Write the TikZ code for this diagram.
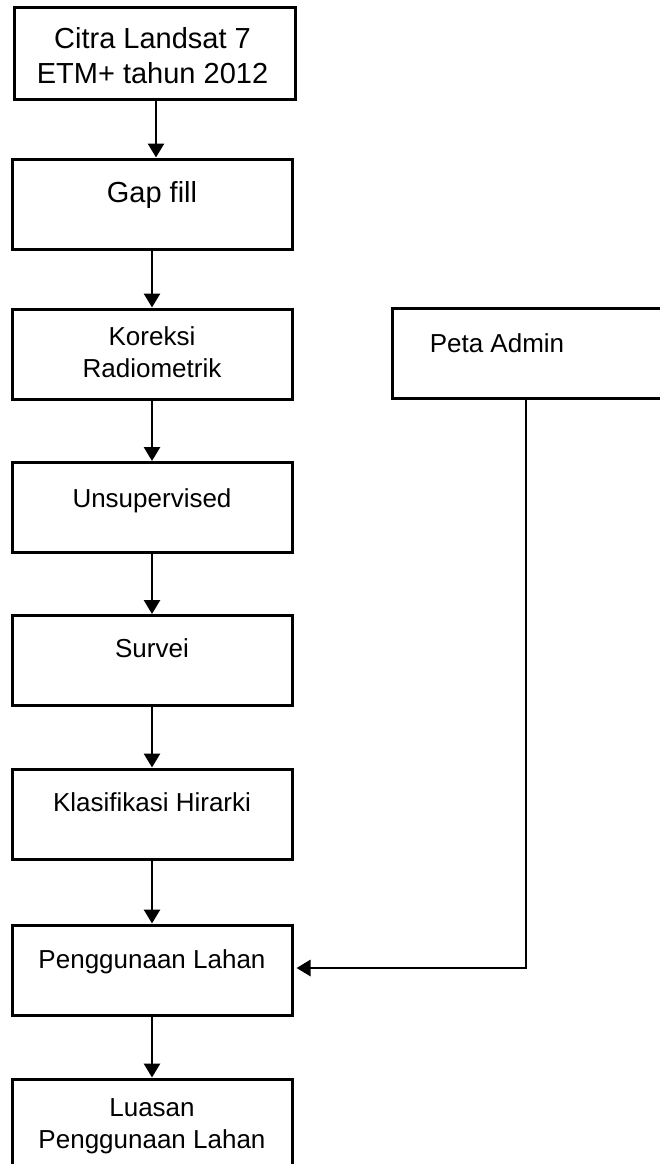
\documentclass[tikz,border=0pt]{standalone}
\usepackage{fontspec}
\setmainfont{Liberation Sans}
\usetikzlibrary{arrows.meta,calc}
\begin{document}
\begin{tikzpicture}[x=1pt,y=-1pt,
 box/.style={draw,line width=3pt,minimum width=280pt,minimum height=90pt,inner sep=0pt},
 big/.style={font=\fontsize{29}{35}\selectfont,align=center,inner sep=0pt,anchor=base},
 txt/.style={font=\fontsize{26}{32}\selectfont,align=center,inner sep=0pt,anchor=base},
 arr/.style={line width=2.8pt,-{Triangle[width=16pt,length=14pt]}}]
\useasboundingbox (0,0) rectangle (659,1164);
% boxes
\node[box,minimum width=281pt,minimum height=91pt] (b1) at (154.5,53.5) {};
\node[box] (b2) at (152,204) {};
\node[box] (b3) at (152,354) {};
\node[box] (b4) at (152,507.5) {};
\node[box] (b5) at (152,660.5) {};
\node[box] (b6) at (152,814) {};
\node[box] (b7) at (152,970) {};
\node[box] (b8) at (152,1124) {};
\node[box] (pa) at (532,353.5) {};
% texts (base = last line)
\node[big] (t1) at (152.5,83) {Citra Landsat 7\\ETM+ tahun 2012};
\node[big] (t2) at (152,202) {Gap fill};
\node[txt] (t3) at (152,377) {Koreksi\\Radiometrik};
\node[txt] (t4) at (152,507) {Unsupervised};
\node[txt] (t5) at (152,657) {Survei};
\node[txt] (t6) at (152,811) {Klasifikasi Hirarki};
\node[txt] (t7) at (152,968) {Penggunaan Lahan};
\node[txt] (t8) at (152,1148) {Luasan\\Penggunaan Lahan};
\node[txt] (tpa) at (497,352) {Peta Admin};
% arrows
\draw[arr] ([xshift=1.5pt]b1.south) -- ([xshift=1.5pt]b1.south |- b2.north);
\draw[arr] (b2.south) -- (b3.north);
\draw[arr] (b3.south) -- (b4.north);
\draw[arr] (b4.south) -- (b5.north);
\draw[arr] (b5.south) -- (b6.north);
\draw[arr] (b6.south) -- (b7.north);
\draw[arr] (b7.south) -- (b8.north);
\draw[arr] ([xshift=-6pt]pa.south) |- ([xshift=3pt,yshift=2pt]b7.east);
\end{tikzpicture}
\end{document}
